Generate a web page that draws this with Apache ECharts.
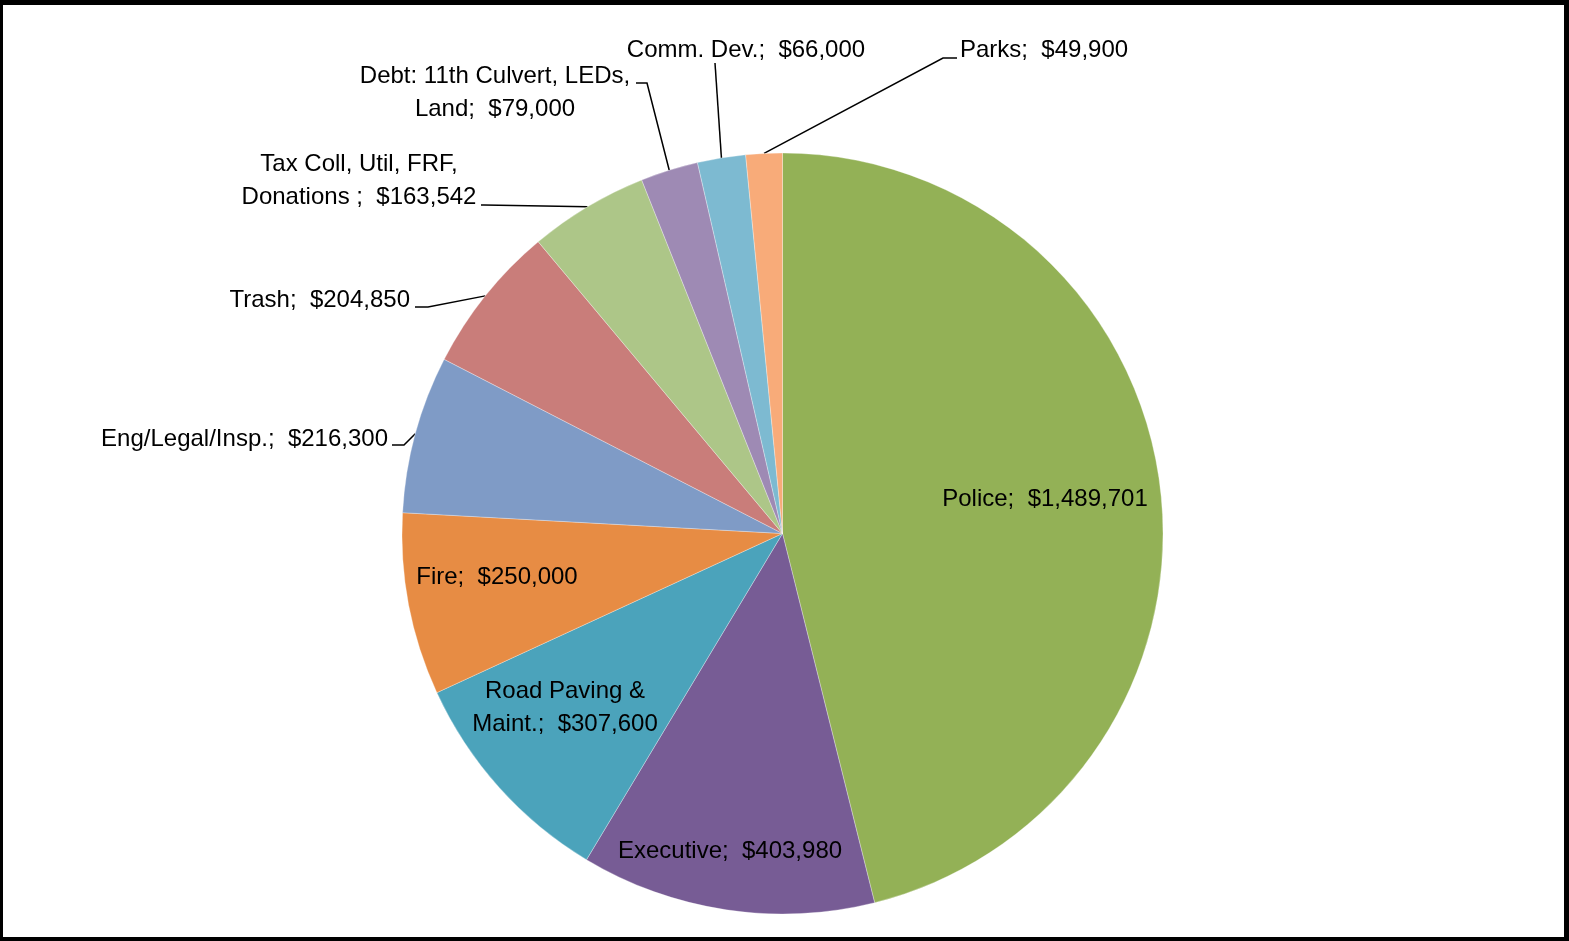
<!DOCTYPE html>
<html>
<head>
<meta charset="utf-8">
<script src="https://cdn.jsdelivr.net/npm/echarts@6/dist/echarts.min.js"></script>
<style>
html,body{margin:0;padding:0;background:#fff;}
#chart{width:1569px;height:941px;box-sizing:border-box;border-style:solid;border-color:#000;border-width:5px 5px 4px 3px;}
</style>
</head>
<body>
<div id="chart"></div>
<script>
const categories = ['Police', 'Executive', 'Road Paving &\nMaint.', 'Fire', 'Eng/Legal/Insp.', 'Trash', 'Tax Coll, Util, FRF,\nDonations ', 'Debt: 11th Culvert, LEDs,\nLand', 'Comm. Dev.', 'Parks'];
const values = [1489701, 403980, 307600, 250000, 216300, 204850, 163542, 79000, 66000, 49900];
const colors = ['#93B156', '#775C95', '#4BA3BB', '#E78C44', '#7F9BC6', '#C97D7A', '#ADC688', '#9E8AB4', '#7DBAD1', '#F8AB79'];
const labelInside = [true, true, true, true, false, false, false, false, false, false];

// label placement (layout only)
const labelPlace = [
  {x: 1045, y: 499, align: 'center'},
  {x: 730, y: 851, align: 'center'},
  {x: 565, y: 708, align: 'center'},
  {x: 497, y: 577, align: 'center'},
  {x: 388, y: 439, align: 'right', elbow: [404, 445], end: [392, 445]},
  {x: 410, y: 300, align: 'right', elbow: [428, 307], end: [415, 307]},
  {x: 359, y: 181, align: 'center', elbow: [484, 205], end: [481, 205]},
  {x: 495, y: 93, align: 'center', elbow: [647, 83], end: [636, 83]},
  {x: 746, y: 50, align: 'center', elbow: [715, 63], end: [715, 63]},
  {x: 960, y: 50, align: 'left', elbow: [943, 58], end: [957, 58]}
];

const FONT = "'Liberation Sans Narrow','Arial Narrow','Liberation Sans',Arial,sans-serif";

const data = categories.map((c, i) => ({
  name: c,
  value: values[i],
  itemStyle: {color: colors[i]},
  label: {position: labelInside[i] ? 'inside' : 'outside'},
  labelLine: {show: !labelInside[i]}
}));

const chart = echarts.init(document.getElementById('chart'));
chart.setOption({
  animation: false,
  series: [{
    type: 'pie',
    center: [779.5, 528.5],
    radius: 380.5,
    startAngle: 90,
    clockwise: true,
    avoidLabelOverlap: false,
    data: data,
    itemStyle: {borderColor: 'rgba(255,255,255,0.6)', borderWidth: 0.5},
    emphasis: {disabled: true},
    label: {
      show: true,
      rotate: 0,
      color: '#000',
      fontFamily: FONT,
      fontSize: 24,
      lineHeight: 33,
      align: 'center',
      formatter: p => p.name + ';  $' + p.value.toLocaleString('en-US')
    },
    labelLine: {
      show: true,
      lineStyle: {color: '#000', width: 1.5}
    },
    labelLayout: function (params) {
      const lp = labelPlace[params.dataIndex];
      // chart div offset by border (left 3, top 5)
      const ox = -3, oy = -5;
      const res = {x: lp.x + ox, y: lp.y + oy, align: lp.align, verticalAlign: 'middle'};
      if (lp.elbow && params.labelLinePoints) {
        const s = params.labelLinePoints[0];
        res.labelLinePoints = [[s[0], s[1]], [lp.elbow[0] + ox, lp.elbow[1] + oy], [lp.end[0] + ox, lp.end[1] + oy]];
      }
      return res;
    }
  }]
});
</script>
</body>
</html>
